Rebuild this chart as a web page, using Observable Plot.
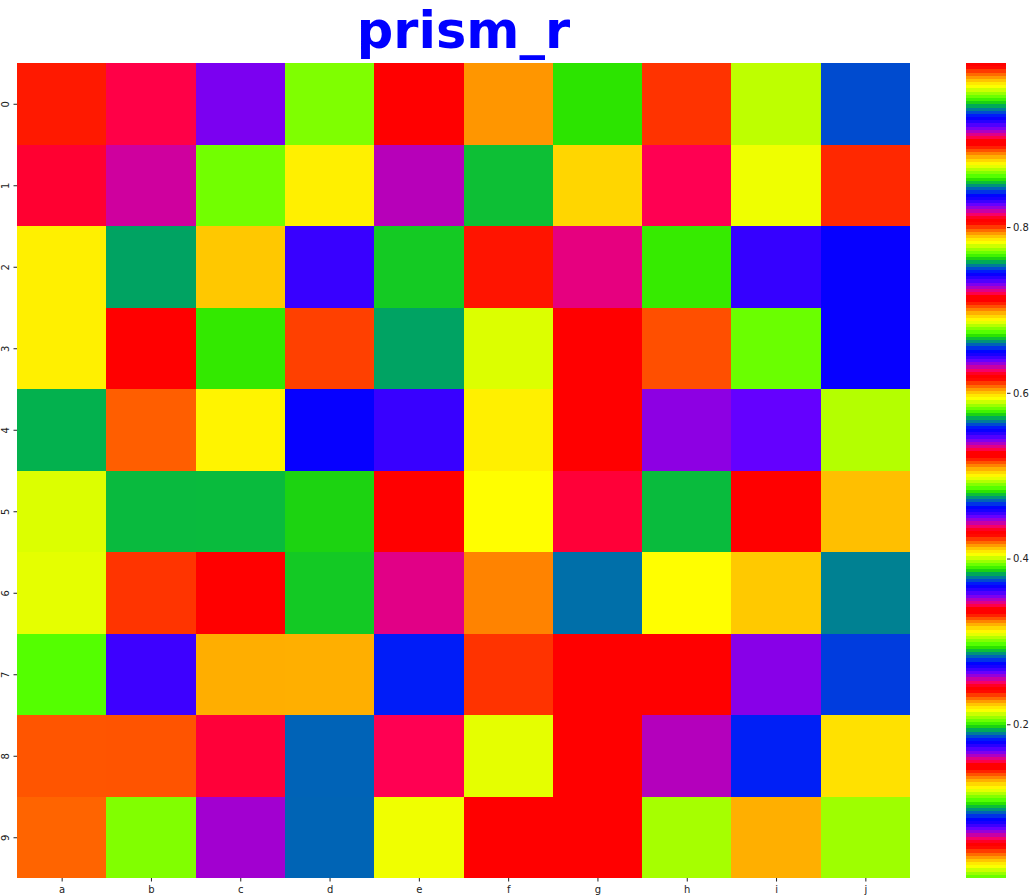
<!DOCTYPE html>
<html><head><meta charset="utf-8">
<script src="https://cdn.jsdelivr.net/npm/d3@7"></script>
<script src="https://cdn.jsdelivr.net/npm/@observablehq/plot@0.6"></script>
<style>
html,body{margin:0;padding:0;background:#fff;}
#wrap{position:relative;width:1029px;height:895px;overflow:hidden;background:#fff;}
#title{position:absolute;left:0;width:927px;top:1px;text-align:center;font-family:"DejaVu Sans";font-weight:bold;font-size:51px;line-height:normal;color:#0000ff;}
#heat{position:absolute;left:0;top:0;}
#cbar{position:absolute;left:940px;top:0;}
</style></head><body>
<div id="wrap"><div id="heat"></div><div id="cbar"></div><div id="title">prism_r</div></div>
<script>
const cols = ["a","b","c","d","e","f","g","h","i","j"];
const rows = ["0","1","2","3","4","5","6","7","8","9"];
const values = [
  [0.7086,0.2489,0.8253,0.4887,0.1486,0.7927,0.3872,0.6124,0.2113,0.9385],
  [0.3418,0.7246,0.2053,0.5955,0.9147,0.2893,0.6927,0.0613,0.4976,0.8956],
  [0.8779,0.4750,0.6941,0.1724,0.3844,0.9914,0.0639,0.7646,0.5491,0.2724],
  [0.2191,0.6192,0.9526,0.4231,0.7573,0.1196,0.5251,0.8925,0.2987,0.6488],
  [0.7585,0.1384,0.3126,0.9312,0.5488,0.6896,0.2427,0.4474,0.8272,0.3987],
  [0.4960,0.8535,0.5712,0.1030,0.3368,0.4051,0.9069,0.6653,0.8060,0.2244],
  [0.1203,0.4241,0.8084,0.8549,0.4408,0.2296,0.5648,0.3110,0.9764,0.6604],
  [0.5792,0.9248,0.4142,0.6965,0.1818,0.8947,0.3350,0.8069,0.0714,0.4667],
  [0.3274,0.7039,0.0599,0.7521,0.8142,0.5909,0.4310,0.9149,0.4644,0.2209],
  [0.9850,0.2065,0.4458,0.2816,0.6859,0.0545,0.8088,0.3976,0.6024,0.1147]
];
const vmin = 0.0145, vmax = 0.998;
const cbarTicks = [0.2, 0.4, 0.6, 0.8];

// matplotlib "prism" colormap, reversed
function prismR(t) {
  const a = (1 - t) * 20.9;
  const c = v => Math.max(0, Math.min(1, v));
  const r = c(0.75 * Math.sin((a + 0.25) * Math.PI) + 0.67);
  const g = c(0.75 * Math.sin((a - 0.25) * Math.PI) + 0.33);
  const b = c(-1.1 * Math.sin(a * Math.PI));
  return `rgb(${Math.round(r*255)},${Math.round(g*255)},${Math.round(b*255)})`;
}
const colorScale = {type: "linear", domain: [vmin, vmax], interpolate: prismR};

const data = [];
rows.forEach((r, i) => cols.forEach((c, j) => data.push({row: r, col: c, value: values[i][j]})));

const heat = Plot.plot({
  width: 930, height: 895,
  marginLeft: 17, marginRight: 20, marginTop: 63, marginBottom: 17,
  style: {fontFamily: "DejaVu Sans", fontSize: "10px", color: "#222", background: "transparent", overflow: "visible"},
  x: {domain: cols, padding: 0, round: false, label: null},
  y: {domain: rows, padding: 0, round: false, label: null},
  color: colorScale,
  marks: [
    Plot.cell(data, {x: "col", y: "row", fill: "value", inset: 0, shapeRendering: "crispEdges"}),
    Plot.axisX({tickSize: 3.5, tickPadding: 4, label: null, fontSize: 10}),
    Plot.axisY({tickSize: 3.5, tickFormat: () => "", label: null}),
    Plot.text(rows, {y: d => d, text: d => d, frameAnchor: "left", dx: -12, rotate: -90, textAnchor: "middle", fontSize: 10, fill: "#222"})
  ]
});
document.getElementById("heat").appendChild(heat);

const n = 256;
const bands = d3.range(n).map(i => ({lo: vmin + i * (vmax - vmin) / n, hi: vmin + (i + 1) * (vmax - vmin) / n}));
const cbar = Plot.plot({
  width: 89, height: 895,
  marginLeft: 26, marginRight: 23, marginTop: 63, marginBottom: 17,
  style: {fontFamily: "DejaVu Sans", fontSize: "10px", color: "#222", background: "transparent", overflow: "visible"},
  x: {domain: [0, 1], axis: null},
  y: {domain: [vmin, vmax], label: null},
  color: colorScale,
  marks: [
    Plot.rect(bands, {x1: 0, x2: 1, y1: "lo", y2: "hi", fill: d => (d.lo + d.hi) / 2, shapeRendering: "crispEdges"}),
    Plot.axisY({anchor: "right", ticks: cbarTicks, tickSize: 3.5, tickPadding: 3, tickFormat: d3.format(".1f"), label: null, fontSize: 10})
  ]
});
document.getElementById("cbar").appendChild(cbar);
</script>
</body></html>
